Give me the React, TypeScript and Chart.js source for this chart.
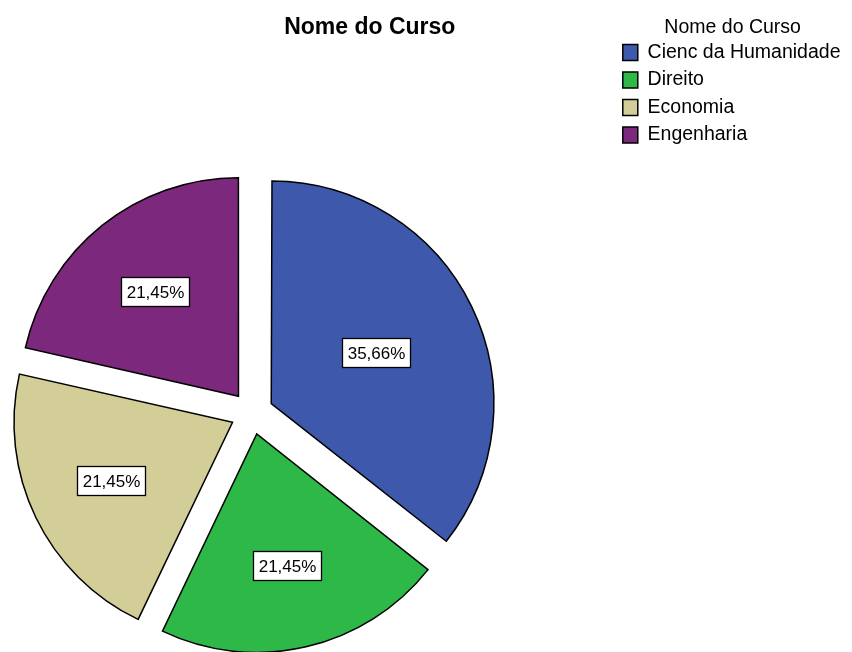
import React, { useEffect, useRef } from 'react';
import { Chart, registerables } from 'chart.js';

Chart.register(...registerables);

const categories = ['Cienc da Humanidade', 'Direito', 'Economia', 'Engenharia'];
const percentValues = [35.66, 21.45, 21.45, 21.45];
const sliceColors = ['#3E58AC', '#2EB848', '#D3CE97', '#7C287D'];
const chartTitle = 'Nome do Curso';
const legendTitle = 'Nome do Curso';

const FONT = '"Liberation Sans", Arial, Helvetica, sans-serif';
// Chart.js translates each arc by offset / 4 along its bisector
const EXPLODE = 86;
// the canvas is wider than the page and shifted left so the pie sits left of centre
const SHIFT = 111;
const CANVAS_W = 852 + SHIFT;
const CANVAS_H = 652;

const sliceLabelPlugin = {
  id: 'sliceLabels',
  afterDatasetsDraw(chart: any) {
    const ctx = chart.ctx as CanvasRenderingContext2D;
    const meta = chart.getDatasetMeta(0);
    const data = chart.data.datasets[0].data as number[];
    const total = data.reduce((a, b) => a + b, 0);
    ctx.save();
    ctx.font = `17px ${FONT}`;
    ctx.textAlign = 'center';
    ctx.textBaseline = 'middle';
    meta.data.forEach((el: any, i: number) => {
      const { x, y, startAngle, endAngle, outerRadius } = el;
      const half = (endAngle - startAngle) / 2;
      const mid = (startAngle + endAngle) / 2;
      const shift = (el.options.offset || 0) / 4;
      const centroid = (2 * outerRadius * Math.sin(half)) / (3 * half);
      const d = shift + centroid;
      const cx = x + Math.cos(mid) * d;
      const cy = y + Math.sin(mid) * d;
      const text = ((data[i] / total) * 100).toFixed(2).replace('.', ',') + '%';
      const w = Math.round(ctx.measureText(text).width + 10);
      const h = 29;
      const left = Math.round(cx - w / 2) + 0.5;
      const top = Math.round(cy - h / 2) + 0.5;
      ctx.fillStyle = '#ffffff';
      ctx.fillRect(left, top, w, h);
      ctx.strokeStyle = '#000000';
      ctx.lineWidth = 1.3;
      ctx.strokeRect(left, top, w, h);
      ctx.fillStyle = '#000000';
      ctx.fillText(text, left + w / 2, top + h / 2 + 1);
    });
    ctx.restore();
  },
};

export default function App() {
  const canvasRef = useRef<HTMLCanvasElement | null>(null);

  useEffect(() => {
    if (!canvasRef.current) return;
    const chart = new Chart(canvasRef.current, {
      type: 'pie',
      data: {
        labels: categories,
        datasets: [
          {
            data: percentValues,
            backgroundColor: sliceColors,
            borderColor: '#000000',
            borderWidth: 1.5,
            borderJoinStyle: 'miter',
            offset: EXPLODE,
            clip: false,
          } as any,
        ],
      },
      options: {
        responsive: false,
        animation: false,
        events: [],
        radius: 218,
        layout: { padding: { left: 0, right: 1.5, top: 0, bottom: 0 } },
        plugins: {
          title: {
            display: true,
            text: chartTitle,
            fullSize: true,
            align: 'center',
            color: '#000000',
            font: { family: FONT, size: 23, weight: 'bold', lineHeight: 1.2 },
            padding: { top: 14.2, bottom: 132.2 },
          },
          legend: {
            display: true,
            position: 'right',
            align: 'start',
            fullSize: true,
            title: {
              display: true,
              text: legendTitle,
              color: '#000000',
              font: { family: FONT, size: 19.5, lineHeight: 0.88 },
              padding: { top: 17.5, bottom: 0 },
            },
            labels: {
              color: '#000000',
              font: { family: FONT, size: 19.5 },
              boxWidth: 15,
              boxHeight: 16,
              padding: 8,
            },
          },
          tooltip: { enabled: false },
        },
      } as any,
      plugins: [sliceLabelPlugin],
    });
    return () => chart.destroy();
  }, []);

  return (
    <div style={{ position: 'absolute', left: 0, top: 0, width: 852, height: 652, overflow: 'hidden', background: '#ffffff' }}>
      <canvas
        ref={canvasRef}
        width={CANVAS_W}
        height={CANVAS_H}
        style={{ display: 'block', position: 'absolute', left: -SHIFT, top: 0 }}
      />
    </div>
  );
}
